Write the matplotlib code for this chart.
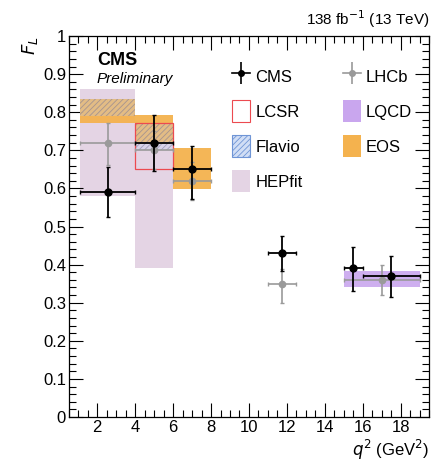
import numpy as np
import matplotlib
matplotlib.use("Agg")
import matplotlib.pyplot as plt
from matplotlib.patches import Rectangle, Patch
from matplotlib.lines import Line2D
from matplotlib.ticker import MultipleLocator, FuncFormatter

plt.rcParams['font.family'] = ['Liberation Sans', 'DejaVu Sans']
plt.rcParams['hatch.linewidth'] = 0.6

# CMS measurement
cms_lo = [1.1, 4.0, 6.0, 11.0, 15.0, 16.0]
cms_hi = [4.0, 6.0, 8.0, 12.5, 16.0, 19.0]
cms_fl = [0.59, 0.72, 0.65, 0.43, 0.39, 0.37]
cms_up = [0.065, 0.074, 0.062, 0.046, 0.057, 0.053]
cms_dn = [0.066, 0.074, 0.079, 0.047, 0.058, 0.056]

# LHCb measurement
lhcb_lo = [1.1, 4.0, 6.0, 11.0, 15.0]
lhcb_hi = [4.0, 6.0, 8.0, 12.5, 19.0]
lhcb_fl = [0.72, 0.70, 0.62, 0.35, 0.36]
lhcb_up = [0.053, 0.05, 0.05, 0.038, 0.04]
lhcb_dn = [0.059, 0.05, 0.05, 0.05, 0.04]

# theory predictions: bin edges and band limits
hepfit_lo = [1.1, 4.0]
hepfit_hi = [4.0, 6.0]
hepfit_min = [0.58, 0.39]
hepfit_max = [0.86, 0.77]

eos_lo = [1.1, 4.0, 6.0]
eos_hi = [4.0, 6.0, 8.0]
eos_min = [0.771, 0.723, 0.598]
eos_max = [0.835, 0.793, 0.707]

flavio_lo = [1.1, 4.0]
flavio_hi = [4.0, 6.0]
flavio_min = [0.79, 0.70]
flavio_max = [0.835, 0.768]

lcsr_lo = [4.0]
lcsr_hi = [6.0]
lcsr_min = [0.65]
lcsr_max = [0.771]

lqcd_lo = [15.0]
lqcd_hi = [19.0]
lqcd_min = [0.342]
lqcd_max = [0.384]

c_eos = '#f4b24e'
c_hep = '#e4d4e4'
c_lqcd = '#c9a6ee'
c_lcsr = '#ec4a50'
c_flav = '#6f95d6'
c_lhcb = '#9a9a9a'

fig = plt.figure(figsize=(4.33, 4.68), dpi=100)
ax = fig.add_axes([0.159, 0.109, 0.832, 0.814])


def boxes(lo, hi, ymin, ymax, **kw):
    for a, b, c, d in zip(lo, hi, ymin, ymax):
        ax.add_patch(Rectangle((a, c), b - a, d - c, **kw))


boxes(hepfit_lo, hepfit_hi, hepfit_min, hepfit_max, facecolor=c_hep, edgecolor='none', zorder=1)
boxes(eos_lo, eos_hi, eos_min, eos_max, facecolor=c_eos, edgecolor='none', alpha=0.95, zorder=2)
boxes(flavio_lo, flavio_hi, flavio_min, flavio_max, facecolor=(0.75, 0.82, 0.95, 0.3),
      edgecolor=(0.45, 0.45, 0.6, 0.55), hatch='//////', linewidth=0, zorder=3)
boxes(lcsr_lo, lcsr_hi, lcsr_min, lcsr_max, facecolor='none', edgecolor=c_lcsr, linewidth=0.9, zorder=4)
boxes(lqcd_lo, lqcd_hi, lqcd_min, lqcd_max, facecolor=c_lqcd, edgecolor='none', alpha=0.9, zorder=2)

lhcb_x = [(a + b) / 2 for a, b in zip(lhcb_lo, lhcb_hi)]
lhcb_xe = [(b - a) / 2 for a, b in zip(lhcb_lo, lhcb_hi)]
ax.errorbar(lhcb_x, lhcb_fl, xerr=lhcb_xe, yerr=[lhcb_dn, lhcb_up], fmt='o', color=c_lhcb,
            ms=4.5, elinewidth=1.2, capsize=1.5, zorder=5)

cms_x = [(a + b) / 2 for a, b in zip(cms_lo, cms_hi)]
cms_xe = [(b - a) / 2 for a, b in zip(cms_lo, cms_hi)]
ax.errorbar(cms_x, cms_fl, xerr=cms_xe, yerr=[cms_dn, cms_up], fmt='o', color='black',
            ms=5, elinewidth=1.3, capsize=1.5, zorder=6)

ax.set_xlim(0.5, 19.5)
ax.set_ylim(0, 1)
ax.xaxis.set_major_locator(MultipleLocator(2))
ax.xaxis.set_minor_locator(MultipleLocator(0.5))
ax.yaxis.set_major_locator(MultipleLocator(0.1))
ax.yaxis.set_minor_locator(MultipleLocator(0.02))
ax.yaxis.set_major_formatter(FuncFormatter(lambda v, p: '%g' % round(v, 2)))
ax.tick_params(which='both', direction='in', top=True, right=True, labelsize=12, width=0.8)
ax.tick_params(which='major', length=10, pad=2)
ax.tick_params(which='minor', length=5)
for s in ax.spines.values():
    s.set_linewidth(0.9)

ax.set_xticks([2, 4, 6, 8, 10, 12, 14, 16, 18])
ax.set_xlabel(r'$q^2$ (GeV$^2$)', fontsize=12, loc='right', labelpad=2)
ax.set_ylabel(r'$F_L$', fontsize=13, loc='top', labelpad=2)

ax.text(0.078, 0.958, 'CMS', transform=ax.transAxes, fontsize=13, fontweight='bold', va='top')
ax.text(0.078, 0.905, 'Preliminary', transform=ax.transAxes, fontsize=11, style='italic', va='top')
ax.text(1.0, 1.015, r'138 fb$^{-1}$ (13 TeV)', transform=ax.transAxes, fontsize=11, ha='right', va='bottom')

# error-bar style legend handles: horizontal line + vertical bar
cms_h = (Line2D([], [], color='black', marker='o', ms=4, lw=1.2),
         Line2D([], [], color='black', marker='|', ms=16, mew=1.2, lw=0))
lhcb_h = (Line2D([], [], color=c_lhcb, marker='o', ms=4, lw=1.2),
          Line2D([], [], color=c_lhcb, marker='|', ms=16, mew=1.2, lw=0))
handles = [
    cms_h,
    Patch(facecolor='white', edgecolor=c_lcsr, linewidth=0.8),
    Patch(facecolor=(0.82, 0.87, 0.96), edgecolor=c_flav, hatch='//////', linewidth=0.8),
    Patch(facecolor=c_hep, edgecolor='none'),
    lhcb_h,
    Patch(facecolor=c_lqcd, edgecolor='none'),
    Patch(facecolor=c_eos, edgecolor='none'),
]
labels = ['CMS', 'LCSR', 'Flavio', 'HEPfit', 'LHCb', 'LQCD', 'EOS']
ax.legend(handles, labels, ncol=2, loc='upper right', bbox_to_anchor=(0.985, 0.955), frameon=False,
          fontsize=12, handlelength=1.1, handleheight=1.7, handletextpad=0.3,
          columnspacing=2.4, labelspacing=0.75, borderpad=0.2)

fig.savefig('out.png', dpi=100)
